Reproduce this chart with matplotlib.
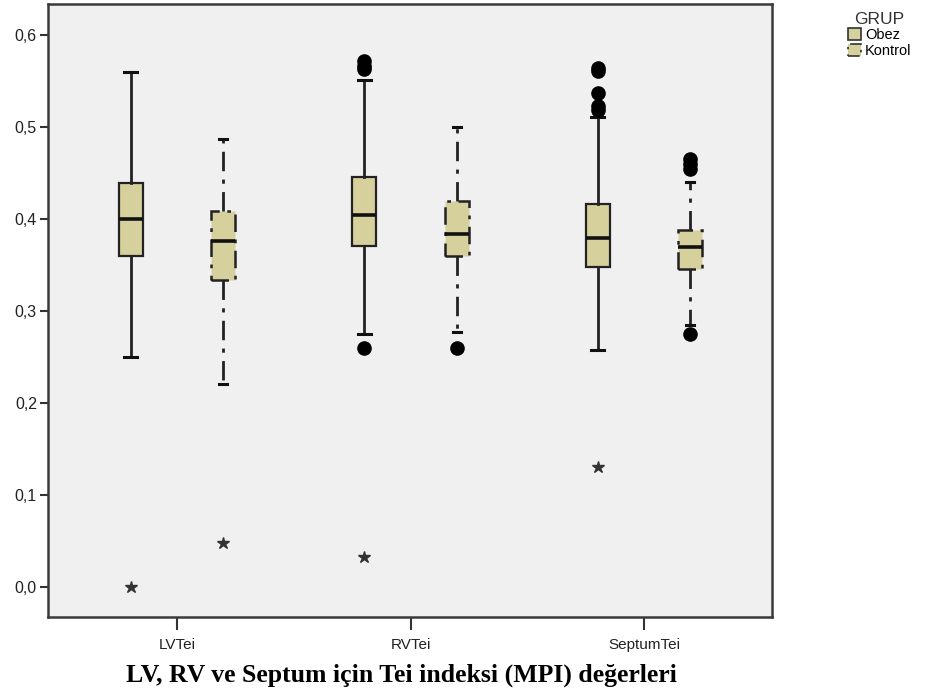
import matplotlib.pyplot as plt
from matplotlib.patches import Patch
from matplotlib.ticker import FuncFormatter

# Tei index (MPI) values per group
categories = ['LVTei', 'RVTei', 'SeptumTei']
groups = ['Obez', 'Kontrol']

obez_q1 = [0.360, 0.371, 0.348]
obez_med = [0.400, 0.405, 0.380]
obez_q3 = [0.439, 0.446, 0.416]
obez_whislo = [0.250, 0.275, 0.258]
obez_whishi = [0.560, 0.551, 0.511]
obez_outliers = [[], [0.572, 0.567, 0.563, 0.260], [0.565, 0.561, 0.537, 0.523, 0.519]]
obez_extremes = [[0.0], [0.032], [0.130]]

kontrol_q1 = [0.334, 0.360, 0.346]
kontrol_med = [0.376, 0.384, 0.370]
kontrol_q3 = [0.409, 0.420, 0.388]
kontrol_whislo = [0.221, 0.277, 0.285]
kontrol_whishi = [0.487, 0.500, 0.440]
kontrol_outliers = [[], [0.260], [0.465, 0.460, 0.455, 0.275]]
kontrol_extremes = [[0.048], [], []]

yticks = [0.0, 0.1, 0.2, 0.3, 0.4, 0.5, 0.6]

BOXCOL = '#d6d09c'
BG = '#f0f0f0'
DASHDOT = (0, (7, 3, 1.5, 3))


def make_stats(q1, med, q3, lo, hi):
    stats = []
    for i in range(len(q1)):
        stats.append(dict(q1=q1[i], med=med[i], q3=q3[i],
                          whislo=lo[i], whishi=hi[i], fliers=[]))
    return stats


fig = plt.figure(figsize=(9.32, 6.96), dpi=100)
ax = fig.add_axes([0.0515, 0.1135, 0.777, 0.8805])
ax.set_facecolor(BG)

off = 0.198
width = 0.103
pos = list(range(len(categories)))

# obez boxes, solid outline
st_o = make_stats(obez_q1, obez_med, obez_q3, obez_whislo, obez_whishi)
ax.bxp(st_o, positions=[p - off for p in pos], widths=width, capwidths=0.055,
       patch_artist=True, showfliers=False, manage_ticks=False,
       boxprops=dict(facecolor=BOXCOL, edgecolor='#222222', linewidth=1.6),
       whiskerprops=dict(color='#222222', linewidth=2),
       capprops=dict(color='#111111', linewidth=2.2),
       medianprops=dict(color='#111111', linewidth=2.6))

# kontrol boxes, dash-dot outline
st_k = make_stats(kontrol_q1, kontrol_med, kontrol_q3, kontrol_whislo, kontrol_whishi)
ax.bxp(st_k, positions=[p + off for p in pos], widths=width, capwidths=0.035,
       patch_artist=True, showfliers=False, manage_ticks=False,
       boxprops=dict(facecolor=BOXCOL, edgecolor='#222222', linewidth=1.8,
                     linestyle=DASHDOT),
       whiskerprops=dict(color='#222222', linewidth=2, linestyle=DASHDOT),
       capprops=dict(color='#111111', linewidth=2.2),
       medianprops=dict(color='#111111', linewidth=2.6))

# outliers (circles) and extremes (stars)
for i in pos:
    for v in obez_outliers[i]:
        ax.plot(i - off, v, 'o', color='black', markersize=9.5, zorder=5)
    for v in kontrol_outliers[i]:
        ax.plot(i + off, v, 'o', color='black', markersize=9.5, zorder=5)
    for v in obez_extremes[i]:
        ax.plot(i - off, v, '*', color='#333333', markersize=9, zorder=5)
    for v in kontrol_extremes[i]:
        ax.plot(i + off, v, '*', color='#333333', markersize=9, zorder=5)

ax.set_xlim(-0.552, 2.548)
ax.set_ylim(-0.033, 0.634)
ax.set_xticks(pos)
ax.set_xticklabels(categories, fontsize=11, family='Liberation Sans', color='#222222')
ax.set_yticks(yticks)
ax.yaxis.set_major_formatter(FuncFormatter(lambda v, p: ('%.1f' % v).replace('.', ',')))
for lab in ax.get_yticklabels():
    lab.set_fontsize(11.5)
    lab.set_family('Liberation Sans')
    lab.set_color('#222222')
ax.tick_params(axis='y', length=6, width=1.5, color='#333333', pad=2)
ax.tick_params(axis='x', length=9, width=1.5, color='#333333', pad=6)
for s in ax.spines.values():
    s.set_color('#3a3a3a')
    s.set_linewidth(1.8)

# legend
handles = [Patch(facecolor=BOXCOL, edgecolor='#333333', linewidth=1.2, label=groups[0]),
           Patch(facecolor=BOXCOL, edgecolor='#333333', linewidth=1.2,
                 linestyle=DASHDOT, label=groups[1])]
leg = fig.legend(handles=handles, title='GRUP', loc='upper left',
                 bbox_to_anchor=(0.9, 0.996), frameon=False,
                 handlelength=0.9, handleheight=0.9, handletextpad=0.3,
                 labelspacing=0.1, borderpad=0.1,
                 prop={'family': 'Liberation Sans', 'size': 10.5})
leg.get_title().set_fontsize(12.5)
leg.get_title().set_family('Liberation Sans')
leg.get_title().set_color('#333333')

fig.text(0.431, 0.03, 'LV, RV ve Septum için Tei indeksi (MPI) değerleri',
         ha='center', va='center', fontsize=18.5, fontweight='bold',
         family='Liberation Serif')

fig.savefig('out.png', dpi=100)
